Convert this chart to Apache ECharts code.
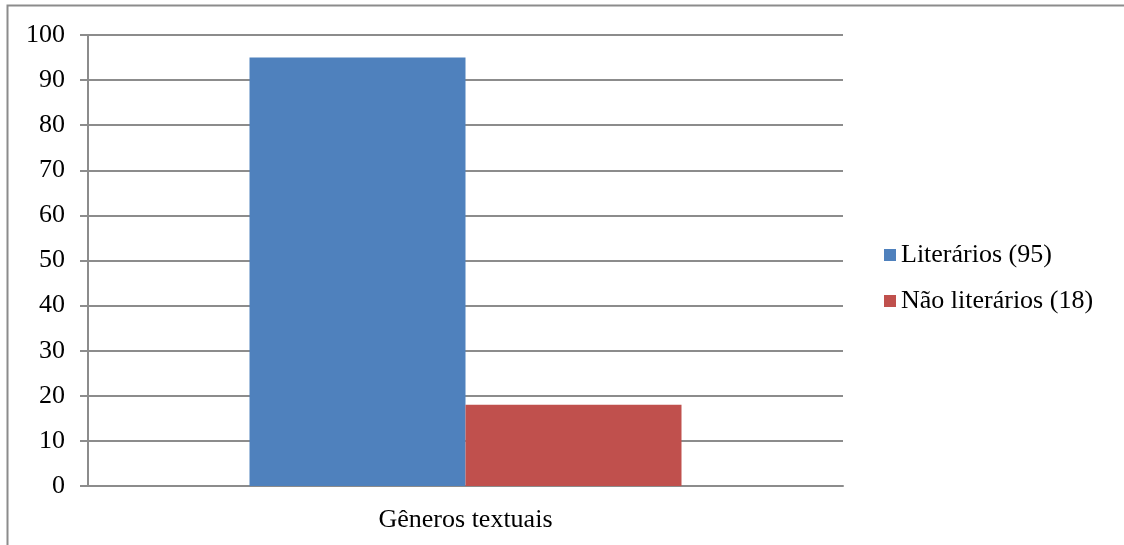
<!DOCTYPE html>
<html>
<head>
<meta charset="utf-8">
<script src="https://cdn.jsdelivr.net/npm/echarts@6/dist/echarts.min.js"></script>
<style>
  html, body { margin: 0; padding: 0; background: #fff; }
  #main { width: 1124px; height: 545px; }
</style>
</head>
<body>
<div id="main"></div>
<script>
var categories = ['Gêneros textuais'];
var seriesNames = ['Literários (95)', 'Não literários (18)'];
var literarios = [95];
var naoLiterarios = [18];
var yTicks = { min: 0, max: 100, interval: 10 };

var myChart = echarts.init(document.getElementById('main'));
var font = '"Liberation Serif", "Times New Roman", serif';
var axisGray = '#8c8c8c';

var option = {
    backgroundColor: '#fff',
    animation: false,
    graphic: [{
        type: 'rect',
        shape: { x: 7.5, y: 5.5, width: 1300, height: 700 },
        style: { fill: 'none', stroke: '#8c8c8c', lineWidth: 2 }
    }],
    legend: {
        orient: 'vertical',
        left: 879,
        top: 237,
        itemWidth: 12,
        itemHeight: 12,
        itemGap: 20,
        icon: 'rect',
        data: seriesNames,
        textStyle: { fontFamily: font, fontSize: 26, color: '#000' }
    },
    grid: { left: 88, top: 35, width: 755, height: 451 },
    xAxis: {
        type: 'category',
        data: categories,
        axisLine: { lineStyle: { color: axisGray, width: 2 } },
        axisTick: { length: 6, lineStyle: { color: axisGray, width: 2 } },
        axisLabel: { fontFamily: font, fontSize: 26, color: '#000', margin: 21 }
    },
    yAxis: {
        type: 'value',
        min: yTicks.min,
        max: yTicks.max,
        interval: yTicks.interval,
        axisLine: { show: true, lineStyle: { color: axisGray, width: 2 } },
        axisTick: { show: true, length: 8, lineStyle: { color: axisGray, width: 2 } },
        splitLine: { lineStyle: { color: axisGray, width: 2 } },
        axisLabel: { fontFamily: font, fontSize: 26, color: '#000', margin: 23 }
    },
    series: [
        {
            name: seriesNames[0],
            type: 'bar',
            data: literarios,
            barWidth: 216,
            barGap: '0%',
            itemStyle: { color: '#4f81bd' }
        },
        {
            name: seriesNames[1],
            type: 'bar',
            data: naoLiterarios,
            barWidth: 216,
            barGap: '0%',
            itemStyle: { color: '#c0504d' }
        }
    ]
};
myChart.setOption(option);
</script>
</body>
</html>
